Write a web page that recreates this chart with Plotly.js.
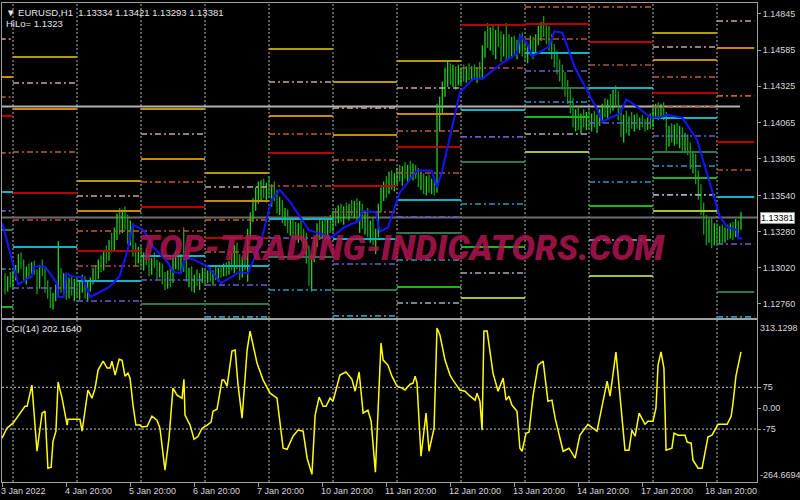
<!DOCTYPE html>
<html><head><meta charset="utf-8">
<script src="https://cdn.plot.ly/plotly-3.0.1.min.js"></script>
<style>html,body{margin:0;padding:0;background:#000;}#chart{width:800px;height:500px;}</style>
</head><body><div id="chart"></div>
<script>
// ---------- DATA ----------
// hourly bars EURUSD H1; bar index 0 = 4 Jan 2022 00:00 (weekend hours skipped)
const firstBar = -3;
const barOpen = [
1.1292,1.1286,1.1293,
1.1291,1.1297,1.1300,1.1309,1.1304,1.1296,1.1301,1.1297,1.1303,1.1299,1.1288,1.1302,1.1298,1.1287,1.1284,1.1276,1.1281,1.1287,1.1296,1.1289,1.1293,1.1284,1.1291,1.1286,
1.1290,1.1285,1.1289,1.1292,1.1283,1.1288,1.1293,1.1299,1.1296,1.1305,1.1302,1.1312,1.1309,1.1320,1.1316,1.1328,1.1337,1.1330,1.1341,1.1333,1.1323,1.1331,1.1314,1.1308,
1.1312,1.1306,1.1310,1.1307,1.1300,1.1306,1.1304,1.1297,1.1302,1.1293,1.1290,1.1298,1.1292,1.1306,1.1310,1.1303,1.1309,1.1304,1.1295,1.1299,1.1289,1.1294,1.1291,1.1296,
1.1299,1.1295,1.1297,1.1294,1.1298,1.1296,1.1300,1.1298,1.1303,1.1299,1.1305,1.1302,1.1315,1.1304,1.1297,1.1308,1.1304,1.1327,1.1339,1.1349,1.1355,1.1358,1.1362,1.1356,
1.1360,1.1355,1.1358,1.1352,1.1345,1.1348,1.1337,1.1340,1.1331,1.1334,1.1328,1.1326,1.1331,1.1325,1.1320,1.1310,1.1296,1.1309,1.1320,1.1330,1.1326,1.1333,1.1329,1.1335,
1.1331,1.1339,1.1336,1.1344,1.1338,1.1343,1.1340,1.1346,1.1342,1.1347,1.1338,1.1344,1.1334,1.1339,1.1328,1.1332,1.1322,1.1326,1.1345,1.1356,1.1361,1.1358,1.1366,1.1362,
1.1367,1.1370,1.1368,1.1372,1.1369,1.1374,1.1370,1.1373,1.1369,1.1364,1.1367,1.1358,1.1365,1.1360,1.1362,1.1357,1.1412,1.1418,1.1430,1.1440,1.1445,1.1438,1.1442,1.1436,
1.1439,1.1442,1.1440,1.1444,1.1441,1.1445,1.1439,1.1443,1.1440,1.1459,1.1468,1.1463,1.1471,1.1460,1.1468,1.1465,1.1458,1.1466,1.1462,1.1456,1.1465,1.1459,1.1462,1.1466,
1.1458,1.1455,1.1460,1.1464,1.1457,1.1467,1.1472,1.1475,1.1471,1.1467,1.1462,1.1455,1.1450,1.1445,1.1440,1.1434,1.1429,1.1425,1.1418,1.1408,1.1411,1.1404,1.1409,1.1406,
1.1410,1.1406,1.1409,1.1405,1.1408,1.1412,1.1417,1.1414,1.1420,1.1418,1.1426,1.1422,1.1413,1.1400,1.1408,1.1404,1.1409,1.1406,1.1410,1.1404,1.1407,1.1405,1.1403,1.1408,
1.1406,1.1413,1.1416,1.1411,1.1418,1.1412,1.1392,1.1400,1.1396,1.1401,1.1394,1.1399,1.1390,1.1395,1.1387,1.1378,1.1381,1.1366,1.1356,1.1345,1.1332,1.1324,1.1333,1.1321,
1.1329,1.1323,1.1328,1.1322,1.1327,1.1325,1.1331,1.1326,1.1334,1.13334];
const barHigh = [
1.1298,1.1296,1.1299,
1.1300,1.1304,1.1312,1.1313,1.1308,1.1303,1.1305,1.1306,1.1307,1.1301,1.1304,1.1308,1.1302,1.1293,1.1288,1.1284,1.1290,1.1321,1.1302,1.1298,1.1297,1.1295,1.1296,1.1294,
1.1295,1.1293,1.1297,1.1296,1.1292,1.1295,1.1302,1.1304,1.1308,1.1311,1.1314,1.1318,1.1322,1.1327,1.1331,1.1341,1.1345,1.1344,1.1346,1.1340,1.1336,1.1334,1.1320,1.1317,
1.1318,1.1313,1.1316,1.1312,1.1309,1.1313,1.1308,1.1306,1.1305,1.1299,1.1300,1.1303,1.1309,1.1314,1.1315,1.1312,1.1331,1.1310,1.1302,1.1303,1.1297,1.1301,1.1298,1.1302,
1.1301,1.1300,1.1302,1.1300,1.1303,1.1302,1.1304,1.1305,1.1306,1.1307,1.1312,1.1318,1.1320,1.1312,1.1310,1.1314,1.1330,1.1342,1.1352,1.1360,1.1364,1.1365,1.1366,1.1363,
1.1368,1.1362,1.1364,1.1358,1.1353,1.1351,1.1345,1.1344,1.1338,1.1337,1.1335,1.1334,1.1336,1.1330,1.1327,1.1318,1.1312,1.1324,1.1334,1.1338,1.1336,1.1339,1.1337,1.1340,
1.1343,1.1345,1.1347,1.1348,1.1346,1.1349,1.1348,1.1351,1.1350,1.1352,1.1350,1.1348,1.1342,1.1345,1.1336,1.1338,1.1330,1.1348,1.1360,1.1364,1.1368,1.1371,1.1372,1.1370,
1.1374,1.1376,1.1375,1.1378,1.1376,1.1379,1.1377,1.1376,1.1374,1.1371,1.1370,1.1368,1.1369,1.1366,1.1365,1.1420,1.1425,1.1436,1.1446,1.1451,1.1449,1.1448,1.1447,1.1448,
1.1446,1.1448,1.1447,1.1449,1.1447,1.1448,1.1446,1.1450,1.1462,1.1472,1.1478,1.1475,1.1476,1.1473,1.1477,1.1472,1.1470,1.1478,1.1470,1.1468,1.1469,1.1466,1.1470,1.1471,
1.1466,1.1463,1.1469,1.1468,1.1470,1.1476,1.1479,1.1483,1.1478,1.1476,1.1470,1.1463,1.1458,1.1452,1.1448,1.1443,1.1437,1.1432,1.1424,1.1416,1.1418,1.1413,1.1416,1.1414,
1.1416,1.1413,1.1415,1.1412,1.1416,1.1420,1.1424,1.1423,1.1427,1.1430,1.1433,1.1429,1.1418,1.1412,1.1415,1.1411,1.1414,1.1412,1.1413,1.1410,1.1412,1.1409,1.1410,1.1413,
1.1416,1.1420,1.1421,1.1420,1.1421,1.1414,1.1404,1.1406,1.1405,1.1406,1.1404,1.1403,1.1399,1.1398,1.1392,1.1386,1.1384,1.1372,1.1362,1.1349,1.1340,1.1337,1.1338,1.1334,
1.1334,1.1332,1.1333,1.1331,1.1333,1.1334,1.1335,1.1337,1.1336,1.13421];
const barLow = [
1.1283,1.1285,1.1288,
1.1287,1.1293,1.1298,1.1301,1.1293,1.1290,1.1294,1.1295,1.1297,1.1283,1.1287,1.1296,1.1284,1.1280,1.1273,1.1272,1.1278,1.1281,1.1284,1.1283,1.1279,1.1280,1.1282,1.1278,
1.1281,1.1279,1.1284,1.1280,1.1278,1.1285,1.1290,1.1292,1.1294,1.1299,1.1300,1.1305,1.1307,1.1313,1.1314,1.1322,1.1326,1.1327,1.1329,1.1319,1.1318,1.1310,1.1303,1.1305,
1.1302,1.1300,1.1304,1.1296,1.1297,1.1302,1.1294,1.1295,1.1290,1.1286,1.1287,1.1288,1.1291,1.1301,1.1300,1.1298,1.1299,1.1292,1.1288,1.1285,1.1284,1.1289,1.1286,1.1291,
1.1290,1.1291,1.1292,1.1289,1.1293,1.1292,1.1295,1.1296,1.1296,1.1297,1.1300,1.1298,1.1301,1.1293,1.1295,1.1300,1.1292,1.1324,1.1335,1.1343,1.1348,1.1350,1.1352,1.1349,
1.1352,1.1346,1.1350,1.1341,1.1340,1.1334,1.1332,1.1327,1.1325,1.1323,1.1322,1.1320,1.1322,1.1316,1.1305,1.1289,1.1285,1.1306,1.1317,1.1322,1.1323,1.1325,1.1324,1.1327,
1.1328,1.1332,1.1334,1.1335,1.1333,1.1337,1.1336,1.1339,1.1338,1.1335,1.1327,1.1330,1.1326,1.1324,1.1320,1.1318,1.1312,1.1324,1.1342,1.1350,1.1352,1.1355,1.1358,1.1357,
1.1362,1.1364,1.1361,1.1366,1.1363,1.1366,1.1365,1.1366,1.1360,1.1358,1.1355,1.1354,1.1356,1.1355,1.1354,1.1356,1.1400,1.1412,1.1425,1.1432,1.1434,1.1432,1.1430,1.1433,
1.1434,1.1436,1.1435,1.1437,1.1436,1.1437,1.1435,1.1438,1.1438,1.1453,1.1460,1.1458,1.1455,1.1452,1.1461,1.1450,1.1454,1.1451,1.1452,1.1453,1.1455,1.1452,1.1456,1.1454,
1.1451,1.1449,1.1455,1.1452,1.1455,1.1462,1.1465,1.1468,1.1463,1.1458,1.1452,1.1446,1.1441,1.1436,1.1430,1.1425,1.1420,1.1413,1.1403,1.1400,1.1401,1.1398,1.1403,1.1401,
1.1402,1.1400,1.1403,1.1399,1.1404,1.1406,1.1410,1.1409,1.1413,1.1415,1.1418,1.1408,1.1396,1.1392,1.1399,1.1397,1.1402,1.1400,1.1402,1.1401,1.1403,1.1400,1.1401,1.1402,
1.1403,1.1409,1.1408,1.1409,1.1408,1.1385,1.1389,1.1392,1.1390,1.1391,1.1388,1.1386,1.1385,1.1383,1.1373,1.1370,1.1362,1.1351,1.1340,1.1326,1.1318,1.1320,1.1316,1.1318,
1.1318,1.1319,1.1319,1.1320,1.1322,1.1323,1.1322,1.1324,1.1325,1.13293];
const barClose = [
1.1286,1.1293,1.1291,
1.1297,1.1300,1.1309,1.1304,1.1296,1.1301,1.1297,1.1303,1.1299,1.1288,1.1302,1.1298,1.1287,1.1284,1.1276,1.1281,1.1287,1.1296,1.1289,1.1293,1.1284,1.1291,1.1286,1.1290,
1.1285,1.1289,1.1292,1.1283,1.1288,1.1293,1.1299,1.1296,1.1305,1.1302,1.1312,1.1309,1.1320,1.1316,1.1328,1.1337,1.1330,1.1341,1.1333,1.1323,1.1331,1.1314,1.1308,1.1312,
1.1306,1.1310,1.1307,1.1300,1.1306,1.1304,1.1297,1.1302,1.1293,1.1290,1.1298,1.1292,1.1306,1.1310,1.1303,1.1309,1.1304,1.1295,1.1299,1.1289,1.1294,1.1291,1.1296,1.1299,
1.1295,1.1297,1.1294,1.1298,1.1296,1.1300,1.1298,1.1303,1.1299,1.1305,1.1302,1.1315,1.1304,1.1297,1.1308,1.1304,1.1327,1.1339,1.1349,1.1355,1.1358,1.1362,1.1356,1.1360,
1.1355,1.1358,1.1352,1.1345,1.1348,1.1337,1.1340,1.1331,1.1334,1.1328,1.1326,1.1331,1.1325,1.1320,1.1310,1.1296,1.1309,1.1320,1.1330,1.1326,1.1333,1.1329,1.1335,1.1331,
1.1339,1.1336,1.1344,1.1338,1.1343,1.1340,1.1346,1.1342,1.1347,1.1338,1.1344,1.1334,1.1339,1.1328,1.1332,1.1322,1.1326,1.1345,1.1356,1.1361,1.1358,1.1366,1.1362,1.1367,
1.1370,1.1368,1.1372,1.1369,1.1374,1.1370,1.1373,1.1369,1.1364,1.1367,1.1358,1.1365,1.1360,1.1362,1.1357,1.1412,1.1418,1.1430,1.1440,1.1445,1.1438,1.1442,1.1436,1.1439,
1.1442,1.1440,1.1444,1.1441,1.1445,1.1439,1.1443,1.1440,1.1459,1.1468,1.1463,1.1471,1.1460,1.1468,1.1465,1.1458,1.1466,1.1462,1.1456,1.1465,1.1459,1.1462,1.1466,1.1458,
1.1455,1.1460,1.1464,1.1457,1.1467,1.1472,1.1475,1.1471,1.1467,1.1462,1.1455,1.1450,1.1445,1.1440,1.1434,1.1429,1.1425,1.1418,1.1408,1.1411,1.1404,1.1409,1.1406,1.1410,
1.1406,1.1409,1.1405,1.1408,1.1412,1.1417,1.1414,1.1420,1.1418,1.1426,1.1422,1.1413,1.1400,1.1408,1.1404,1.1409,1.1406,1.1410,1.1404,1.1407,1.1405,1.1403,1.1408,1.1406,
1.1413,1.1416,1.1411,1.1418,1.1412,1.1392,1.1400,1.1396,1.1401,1.1394,1.1399,1.1390,1.1395,1.1387,1.1378,1.1381,1.1366,1.1356,1.1345,1.1332,1.1324,1.1333,1.1321,1.1329,
1.1323,1.1328,1.1322,1.1327,1.1325,1.1331,1.1326,1.1334,1.1333,1.13381];

// blue HiLo line (vertices)
const hiloX = [-4,2,7,8,12,16.5,17,19,20,22,26,29,36,40,43,45,49,52.5,58,60,63,64.5,67.5,73,78,82.5,85,88,92.6,97,100,104,111,119.6,124,130,131,136,137.6,140.6,145,151.5,157,159,161,167.6,172.5,176,182.6,189,190,192.7,194.6,196.5,201,203,206,210.7,215,219,221,224,227.6,230,234,239,242.6,245,251,256.5,260,265,268,271.5,272,273.5];
const hiloY = [1.1334,1.1290,1.1296,1.1303,1.1303,1.1291,1.1281,1.1281,1.1298,1.1296,1.1295,1.1281,1.1288,1.1296,1.1315,1.1333,1.1329,1.1317,1.1306,1.1299,1.1298,1.1310,1.1308,1.1303,1.1291,1.1296,1.1299,1.1298,1.1318,1.1351,1.1358,1.1349,1.1329,1.1324,1.1331,1.1336,1.1343,1.1342,1.1328,1.1331,1.1356,1.1372,1.1372,1.1360,1.1372,1.1428,1.1438,1.1438,1.1448,1.1456,1.1469,1.1464,1.1454,1.1456,1.1461,1.1472,1.1471,1.1446,1.1430,1.1416,1.1407,1.1410,1.1413,1.1423,1.1418,1.1410,1.1410,1.1412,1.1410,1.1394,1.1372,1.1339,1.1331,1.1329,1.1323,1.1323];

// CCI(14)
const cciX = [-4.1,-2.3,0,4.5,5.3,7.1,9,10.9,12,13.1,14.3,15,16.1,16.9,18.4,20.3,20.6,25.1,25.9,28.1,29.6,30.8,31.9,33.8,35.3,36.4,37.1,38.3,39.8,40.9,42,43.1,43.9,45,46.1,47.6,48.4,50.3,52.1,54,55.1,57,58.5,60,61.5,63.4,64.1,64.5,66.4,67.9,69.4,70.9,72.8,74.3,75,76.5,78.4,79.1,80.3,82.1,83.3,84.4,85.9,87.8,88.9,91.5,93.8,96.4,99,101.3,102.8,105,106.9,108.8,110.3,112.1,113.3,114.8,116.3,117.4,118.9,120,122.6,124.9,127.1,128.3,129.8,131.3,133.1,134.3,135.9,137.3,138,138.8,140.6,142.1,144,145.9,147,148.9,150,150.8,151.5,153,154.9,156,157.9,159,160.1,162,163.9,165,167.6,169.5,171.4,173.3,174,175.1,175.9,176.6,177.8,180,181.9,183.8,184.9,186,187.1,189,190.1,190.9,192.4,193.5,195,196.9,198.4,198.8,200.6,202.1,203.3,206.3,208.5,210.8,212.6,215.6,219,222.8,223.9,226.1,229.5,231,232.1,233.3,234.8,237,238.1,240,241.1,241.9,243,244.1,244.9,247.1,247.9,249.4,252,252.8,254.3,255,256.9,258.4,260.6,262.1,264.4,267.8,269.3,270,271.1,273];
const cciY = [-108,-72,-54,7,7,83,-155,-18,-11,-216,-212,-119,-83,94,36,-61,-40,-40,-83,65,36,72,137,169,144,144,169,119,176,172,115,126,108,11,-61,-61,-68,-65,-29,-43,-72,-223,-108,72,47,36,104,-25,-61,-112,-101,-72,-61,-50,-11,-4,101,101,79,205,209,83,-36,209,277,162,101,54,36,-144,-148,-101,-79,-83,-180,-238,-25,40,7,7,36,25,119,130,104,61,130,-18,-7,-47,-230,119,234,173,155,115,79,72,65,86,90,115,90,-173,-18,-155,-72,288,263,173,119,101,65,61,43,29,54,25,-79,277,277,126,61,108,29,43,11,-11,-144,-155,-90,-86,43,155,169,169,25,29,-36,-155,-144,-180,-97,-58,-83,97,43,202,-151,-151,-79,-101,-18,-58,-47,-47,0,155,202,144,-151,-144,-90,-97,-97,-122,-126,-187,-216,-216,-104,-97,-58,-58,-29,18,115,202.164];
const cciMax = 313.1298, cciMin = -264.6694;
const cciLevels = [75, -75];

// daily pivot levels: 3,4,5,6,7,10,11,12,13,14,17,18,19 Jan
const dayStart = [-5,0,24,48,72,96,120,144,168,192,216,240,264];
const dayEnd   = [0,24,48,72,96,120,144,168,192,216,240,264,278];
const levelR3 = [null,1.14536,1.13644,1.14162,1.13702,1.14593,1.14356,1.14507,null,null,null,1.14708,null];
const levelM5 = [1.14665,1.14349,1.13536,1.13982,1.13601,1.14356,1.14169,1.14313,null,null,null,1.14608,1.14795];
const levelR2 = [1.14392,1.14162,1.13429,1.13803,1.13500,1.14112,1.13975,1.14126,null,null,null,1.14514,1.14601];
const levelM4 = [1.14248,1.13853,1.13285,1.13637,1.13364,1.13982,1.13795,1.14004,null,1.14895,1.14895,1.14392,1.14256];
const levelR1 = [1.14112,1.13558,1.13141,1.13457,1.13234,1.13846,1.13608,1.13889,1.14766,1.14773,1.14644,1.14277,1.13925];
const levelM3 = [1.13846,1.13364,1.13033,1.13285,1.13134,1.13608,1.13421,1.13702,1.14457,1.14665,1.14478,1.14176,1.13723];
const levelP  = [1.13565,1.13170,1.12925,1.13105,1.13033,1.13371,1.13227,1.13508,1.14155,1.14565,1.14313,1.14097,1.13529];
const levelM2 = [1.13429,1.12875,1.12781,1.12932,1.12896,1.13234,1.13047,1.13385,1.13961,1.14435,1.14061,1.13968,1.13191];
const levelS1 = [1.13292,null,null,1.12760,1.12760,1.13098,1.12860,1.13270,1.13781,1.14313,1.13803,1.13853,1.12846];
const levelM1 = [1.13011,null,null,null,1.12667,1.12860,1.12674,1.13076,1.13479,1.14212,1.13637,1.13752,1.12667];
const levelS2 = [1.12738,null,null,null,null,null,null,1.12882,1.13170,1.14105,1.13465,1.13666,null];
const levelM0 = [null,null,null,null,null,null,null,1.12767,1.12983,1.13982,1.13220,1.13544,null];
const levelS3 = [null,null,null,null,null,null,null,null,1.12803,1.13853,1.12961,1.13429,null];

const hLinePrice = 1.14180;
const bidPrice = 1.13381;
const hiloValue = 1.1323;
const symbolText = 'EURUSD,H1';

const priceTicks = [1.14845,1.14585,1.14325,1.14065,1.13805,1.13540,1.13280,1.13020,1.12760];
const cciTicks = [75, 0, -75];
const cciTickText = ['75','0.00','-75'];
const timeTickBars = [-4,20,44,68,92,116,140,164,188,212,236,260];
const timeTickText = ['3 Jan 2022','4 Jan 20:00','5 Jan 20:00','6 Jan 20:00','7 Jan 20:00','10 Jan 20:00','11 Jan 20:00','12 Jan 20:00','13 Jan 20:00','14 Jan 20:00','17 Jan 20:00','18 Jan 20:00'];
const separatorBars = [0,24,48,72,96,120,144,168,192,216,240,264];

// ---------- STYLES ----------
const FONT = 'Liberation Sans, Arial, DejaVu Sans, sans-serif';
const FS = 9;
const TXT = '#d8d8d8';
const FRAME = '#a0a0a0';
const DASHDOT = '6px,3px,2px,3px';
const levelStyle = [
  ['R3', levelR3, '#b39b00', 'solid', 2],
  ['M5', levelM5, '#c9a3a3', DASHDOT, 1.6],
  ['R2', levelR2, '#c98a00', 'solid', 2],
  ['M4', levelM4, '#c0602a', DASHDOT, 1.6],
  ['R1', levelR1, '#b80000', 'solid', 2],
  ['M3', levelM3, '#b3503a', DASHDOT, 1.6],
  ['P',  levelP,  '#10b4c4', 'solid', 2],
  ['M2', levelM2, '#6c5cc8', DASHDOT, 1.6],
  ['S1', levelS1, '#2e7552', 'solid', 2],
  ['M1', levelM1, '#2898bc', DASHDOT, 1.6],
  ['S2', levelS2, '#1eb41e', 'solid', 2],
  ['M0', levelM0, '#9eb0bc', DASHDOT, 1.6],
  ['S3', levelS3, '#a8c22a', 'solid', 2]
];

// ---------- BUILD ----------
const traces = [];
levelStyle.forEach(([name, vals, color, dash, w]) => {
  const xs = [], ys = [];
  vals.forEach((v, d) => {
    if (v === null) return;
    xs.push(dayStart[d], dayEnd[d], null);
    ys.push(v, v, null);
  });
  traces.push({type:'scatter', mode:'lines', x:xs, y:ys, xaxis:'x', yaxis:'y',
    line:{color:color, width:w, dash:dash}, hoverinfo:'skip', name:name});
});

const barX = barClose.map((_, k) => firstBar + k);
traces.push({type:'ohlc', x:barX, open:barOpen, high:barHigh, low:barLow, close:barClose,
  xaxis:'x', yaxis:'y', tickwidth:0.25,
  increasing:{line:{color:'#1ed21e', width:1.3}},
  decreasing:{line:{color:'#0fa00f', width:1.3}}, hoverinfo:'skip'});

traces.push({type:'scatter', mode:'lines', x:hiloX, y:hiloY, xaxis:'x', yaxis:'y',
  line:{color:'#1414ff', width:2}, hoverinfo:'skip'});

traces.push({type:'scatter', mode:'lines', x:cciX, y:cciY, xaxis:'x2', yaxis:'y2',
  line:{color:'#ffff00', width:1.5}, hoverinfo:'skip'});

const lastBar = barX[barX.length - 1];
const shapes = [];
separatorBars.forEach(b => shapes.push({type:'line', xref:'x', yref:'paper', x0:b, x1:b, y0:0, y1:1,
  line:{color:'#b4b4b4', width:1, dash:'2px,2px'}, layer:'below'}));
cciLevels.forEach(v => shapes.push({type:'line', xref:'paper', yref:'y2', x0:0, x1:1, y0:v, y1:v,
  line:{color:'#c4c4c4', width:1, dash:'2px,2px'}, layer:'below'}));
shapes.push({type:'line', xref:'x', yref:'y', x0:-5, x1:lastBar - 0.4, y0:hLinePrice, y1:hLinePrice,
  line:{color:'#b0b0b0', width:2}, layer:'below'});
shapes.push({type:'line', xref:'paper', yref:'y', x0:0, x1:1, y0:bidPrice, y1:bidPrice,
  line:{color:'#6e6e6e', width:2}, layer:'below'});

const annotations = [];
annotations.push({xref:'paper', yref:'paper', x:0, y:1, xanchor:'left', yanchor:'top', xshift:2, yshift:-2,
  showarrow:false, text:'▼ ' + symbolText + '  ' + barOpen[barOpen.length-1].toFixed(5) + ' ' + barHigh[barHigh.length-1].toFixed(5) + ' ' + barLow[barLow.length-1].toFixed(5) + ' ' + barClose[barClose.length-1].toFixed(5),
  font:{family:FONT, size:9.5, color:'#e6e6e6'}});
annotations.push({xref:'paper', yref:'paper', x:0, y:1, xanchor:'left', yanchor:'top', xshift:2, yshift:-13,
  showarrow:false, text:'HiLo= ' + hiloValue.toFixed(4), font:{family:FONT, size:9.5, color:'#e6e6e6'}});
annotations.push({xref:'paper', yref:'paper', x:0, y:0.3382, xanchor:'left', yanchor:'top', xshift:2, yshift:-1,
  showarrow:false, text:'CCI(14) ' + cciY[cciY.length-1].toFixed(4), font:{family:FONT, size:9.5, color:'#e6e6e6'}});
annotations.push({xref:'paper', yref:'paper', x:0.5285, y:0.487, xanchor:'center', yanchor:'middle',
  showarrow:false, text:'TOP-TRADING-INDICATORS.COM',
  font:{family:'Roboto, DejaVu Sans, sans-serif', size:35, weight:900, style:'italic', color:'rgba(176,22,80,0.86)'}});
annotations.push({xref:'paper', yref:'y', x:1, y:bidPrice, xanchor:'left', yanchor:'middle', xshift:3,
  showarrow:false, text:bidPrice.toFixed(5), bgcolor:'#ffffff', bordercolor:'#909090', borderwidth:1, borderpad:0,
  font:{family:FONT, size:FS, color:'#000000'}});
annotations.push({xref:'paper', yref:'y2', x:1, y:cciMax, xanchor:'left', yanchor:'top', xshift:1,
  showarrow:false, text:cciMax.toFixed(4), font:{family:FONT, size:FS, color:TXT}});
annotations.push({xref:'paper', yref:'y2', x:1, y:cciMin, xanchor:'left', yanchor:'bottom', xshift:1,
  showarrow:false, text:cciMin.toFixed(4), font:{family:FONT, size:FS, color:TXT}});
timeTickBars.forEach((b, k) => annotations.push({xref:'x2', yref:'paper', x:b, y:0, xanchor:'left', yanchor:'top',
  xshift:-3, yshift:-2, showarrow:false, text:timeTickText[k], font:{family:FONT, size:FS, color:TXT}}));

const xRange = [-4.125, 279];
const layout = {
  width:800, height:500, paper_bgcolor:'#000000', plot_bgcolor:'#000000', showlegend:false,
  margin:{l:2, r:43, t:3, b:18, pad:0},
  xaxis:{domain:[0,1], anchor:'y', range:xRange, showgrid:false, zeroline:false, showticklabels:false,
    ticks:'', showline:true, mirror:true, linecolor:FRAME, linewidth:1, rangeslider:{visible:false}, fixedrange:true},
  xaxis2:{domain:[0,1], anchor:'y2', range:xRange, showgrid:false, zeroline:false, showticklabels:false,
    ticks:'outside', ticklen:4, tickcolor:FRAME, tickvals:timeTickBars, showline:true, mirror:true,
    linecolor:FRAME, linewidth:1, fixedrange:true},
  yaxis:{domain:[0.3424,1], anchor:'x', range:[1.12659,1.14924], side:'right', showgrid:false, zeroline:false,
    tickvals:priceTicks, ticktext:priceTicks.map(v => v.toFixed(5)), ticks:'outside', ticklen:3, tickcolor:FRAME,
    tickfont:{family:FONT, size:FS, color:TXT}, showline:true, mirror:true, linecolor:FRAME, linewidth:1},
  yaxis2:{domain:[0,0.3382], anchor:'x2', range:[-265.5,317], side:'right', showgrid:false, zeroline:false,
    tickvals:cciTicks, ticktext:cciTickText, ticks:'outside', ticklen:3, tickcolor:FRAME,
    tickfont:{family:FONT, size:FS, color:TXT}, showline:true, mirror:true, linecolor:FRAME, linewidth:1},
  shapes:shapes, annotations:annotations
};
Plotly.newPlot('chart', traces, layout, {staticPlot:true, displayModeBar:false});
</script></body></html>
